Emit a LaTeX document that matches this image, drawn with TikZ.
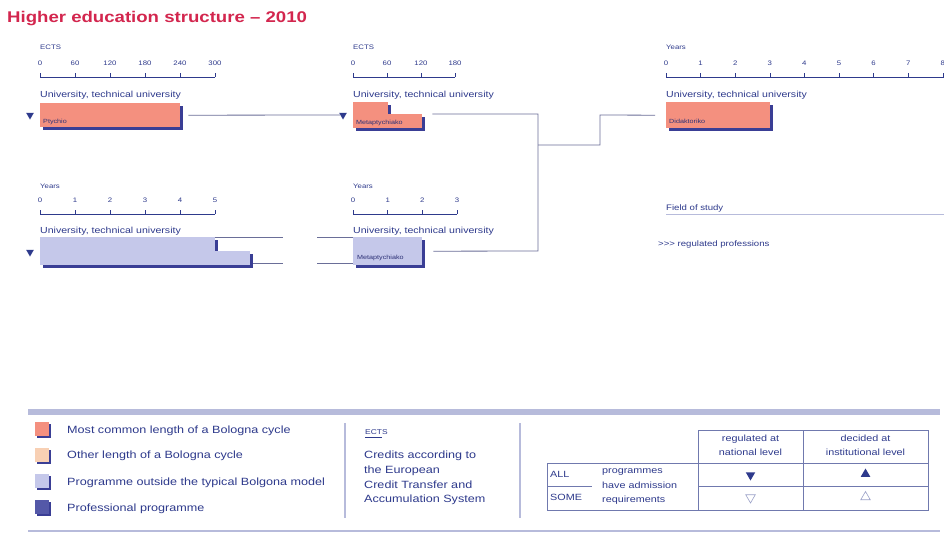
\documentclass[tikz,border=0pt]{standalone}
\usepackage{fontspec}
\setmainfont[FakeStretch=1.2]{Liberation Sans}
\usetikzlibrary{shapes.geometric,shadows}
\definecolor{titlered}{HTML}{D3264E}
\definecolor{dblue}{HTML}{2E3A8C}
\definecolor{salmon}{HTML}{F4907F}
\definecolor{peach}{HTML}{F8D0B4}
\definecolor{lav}{HTML}{C5C8EA}
\definecolor{prof}{HTML}{5458A8}
\definecolor{shadowc}{HTML}{3A3E95}
\definecolor{connc}{HTML}{6A6E98}
\definecolor{bandc}{HTML}{B7BBDB}
\definecolor{tablec}{HTML}{7079AE}
\definecolor{opentri}{HTML}{9AA0C8}
\newcommand{\myaxis}[6]{% #1 name, #2 x0, #3 step, #4 axis y, #5 end x, #6 labels
  \draw[axisline] (#2,#4) -- (#5,#4);
  \foreach \lab [count=\i from 0] in {#6} {
    \draw[axisline] (#2+\i*#3,#4) -- ++(0,-4);
    \node[num] (#1-\i) at (#2+\i*#3,#4-12) {\lab};
  }
}
\begin{document}
\begin{tikzpicture}[x=1pt,y=-1pt,
  txt/.style={inner sep=0pt, anchor=base west, text=dblue, font=\fontsize{#1}{#1}\selectfont},
  txt/.default=8,
  num/.style={inner sep=0pt, anchor=base, text=dblue, font=\fontsize{6.5}{6.5}\selectfont},
  axisline/.style={draw=dblue, line width=0.6pt},
  bar/.style={draw=none, inner sep=0pt, anchor=north west,
    general shadow={fill=shadowc, shadow xshift=2.5pt, shadow yshift=-2.5pt}},
  barlbl/.style={inner sep=0pt, anchor=base west, text=shadowc!80!black, font=\fontsize{6}{6}\selectfont},
  tridown/.style={regular polygon, regular polygon sides=3, shape border rotate=180,
    fill=dblue, inner sep=0pt, minimum size=9pt},
  triup/.style={regular polygon, regular polygon sides=3,
    fill=dblue, inner sep=0pt, minimum size=9pt},
  tabtri/.style={minimum size=11pt},
  conn/.style={draw=connc, line width=0.8pt},
  legsq/.style={draw=none, inner sep=0pt, minimum size=14pt,
    general shadow={fill=shadowc, shadow xshift=2pt, shadow yshift=-2pt}},
  tline/.style={draw=tablec, line width=0.7pt},
]
\useasboundingbox (0,0) rectangle (944,535);
\fill[white] (0,0) rectangle (944,535);

% title
\node[inner sep=0pt, anchor=base west, text=titlered, font=\fontsize{15.5}{15.5}\selectfont\bfseries] (title) at (7,23) {Higher education structure -- 2010};

% ---------- top row ----------
\node[txt=6.5] (h1) at (40,49) {ECTS};
\myaxis{a1}{40}{35}{77}{215}{0,60,120,180,240,300}
\node[txt=8.8] (u1) at (40,97) {University, technical university};
\node[bar, fill=salmon, minimum width=140pt, minimum height=24pt] (p1) at (40,103) {};
\node[barlbl] (p1l) at (43,123) {Ptychio};
\node[tridown] (t1) at (30,115) {};

\node[txt=6.5] (h2) at (353,49) {ECTS};
\myaxis{a2}{353}{34}{77}{455}{0,60,120,180}
\node[txt=8.8] (u2) at (353,97) {University, technical university};
\node[bar, fill=salmon, minimum width=35pt, minimum height=12pt] (m1a) at (353,102) {};
\node[bar, fill=salmon, minimum width=69pt, minimum height=14pt] (m1) at (353,114) {};
\node[barlbl] (m1l) at (356,124) {Metaptychiako};
\node[tridown] (t2) at (343,115) {};

\node[txt=6.5] (h3) at (666,49) {Years};
\myaxis{a3}{666}{34.6}{77}{944}{0,1,2,3,4,5,6,7,8}
\node[txt=8.8] (u3) at (666,97) {University, technical university};
\node[bar, fill=salmon, minimum width=104pt, minimum height=26pt] (d1) at (666,102) {};
\node[barlbl] (d1l) at (669,123) {Didaktoriko};

% ---------- bottom row ----------
\node[txt=6.5] (h4) at (40,188) {Years};
\myaxis{a4}{40}{35}{214}{215}{0,1,2,3,4,5}
\node[txt=8.8] (u4) at (40,233) {University, technical university};
\node[bar, fill=lav, minimum width=175pt, minimum height=14pt] (l1a) at (40,237) {};
\node[bar, fill=lav, minimum width=210pt, minimum height=14pt] (l1) at (40,251) {};
\node[tridown] (t3) at (30,252) {};

\node[txt=6.5] (h5) at (353,188) {Years};
\myaxis{a5}{353}{34.7}{214}{457}{0,1,2,3}
\node[txt=8.8] (u5) at (353,233) {University, technical university};
\node[bar, fill=lav, minimum width=69pt, minimum height=28pt] (m2) at (353,237) {};
\node[barlbl] (m2l) at (357,259) {Metaptychiako};

% ---------- connectors ----------
\coordinate (jb) at (538,251);
\coordinate (jc) at (538,145);
\coordinate (jd) at (600,115);
\draw[conn] ([xshift=8pt]p1.east) -- (t2.west);
\draw[conn] ([xshift=10pt]m1.north east) -| (jb) -- ([xshift=11pt]m2.east);
\draw[conn] (jc) -| (jd) -- ([xshift=-11pt]d1.west);
\coordinate (g1) at (283,237);
\coordinate (g2) at (317,237);
\coordinate (g3) at (253,263);
\coordinate (g4) at (283,263);
\coordinate (g5) at (317,263);
\coordinate (g6) at (353,263);
\draw[conn] (l1a.north east) -- (g1);
\draw[conn] (g2) -- (m2.north west);
\draw[conn] (g3) -- (g4);
\draw[conn] (g5) -- (g6);

% field of study
\node[txt=8] (fos) at (666,210) {Field of study};
\draw[draw=bandc, line width=1.6pt] (666,214.5) -- (944,214.5);
\node[txt=8] (reg) at (658,246) {>{}>{}> regulated professions};

% ---------- legend ----------
\fill[bandc] (28,409) rectangle (940,415);
\draw[draw=bandc, line width=1.2pt] (28,531) -- (940,531);
\node[legsq, fill=salmon] (s1) at (42,429) {};
\node[legsq, fill=peach] (s2) at (42,455) {};
\node[legsq, fill=lav] (s3) at (42,481) {};
\node[legsq, fill=prof] (s4) at (42,507) {};
\node[txt=10.5] (l1t) at (67,433.5) {Most common length of a Bologna cycle};
\node[txt=10.5] (l2t) at (67,458.5) {Other length of a Bologna cycle};
\node[txt=10.5] (l3t) at (67,485.5) {Programme outside the typical Bolgona model};
\node[txt=10.5] (l4t) at (67,511.5) {Professional programme};

\draw[draw=bandc, line width=1.2pt] (345,423) -- (345,518);
\draw[draw=bandc, line width=1.2pt] (520,423) -- (520,518);

\node[txt=7] (ects) at (365,434) {ECTS};
\draw[draw=dblue, line width=0.5pt] (ects.base west) ++(0,3) -- ++(17,0);
\node[txt=10.5] (e1) at (364,458.5) {Credits according to};
\node[txt=10.5] (e2) at (364,473.5) {the European};
\node[txt=10.5] (e3) at (364,488.5) {Credit Transfer and};
\node[txt=10.5] (e4) at (364,502.5) {Accumulation System};

% table
\draw[tline] (698,430) rectangle (928,463);
\draw[tline] (547,463) rectangle (928,510);
\draw[tline] (698,430) -- (698,510);
\draw[tline] (803,430) -- (803,510);
\draw[tline] (698,486) -- (928,486);
\draw[tline] (547,486) -- (592,486);
\node[txt=9, anchor=base] (c1a) at (750.5,441) {regulated at};
\node[txt=9, anchor=base] (c1b) at (750.5,455.5) {national level};
\node[txt=9, anchor=base] (c2a) at (865.5,441) {decided at};
\node[txt=9, anchor=base] (c2b) at (865.5,455.5) {institutional level};
\node[txt=9] (all) at (550,477) {ALL};
\node[txt=9] (some) at (550,500) {SOME};
\node[txt=9] (r1) at (602,473.5) {programmes};
\node[txt=9] (r2) at (602,488) {have admission};
\node[txt=9] (r3) at (602,502) {requirements};
\node[tridown, tabtri] (tt1) at (750.5,475) {};
\node[triup, tabtri] (tt2) at (865.5,474) {};
\node[tridown, tabtri, fill=none, draw=opentri, line width=0.6pt] (tt3) at (750.5,497.5) {};
\node[triup, tabtri, fill=none, draw=opentri, line width=0.6pt] (tt4) at (865.5,497) {};
\end{tikzpicture}
\end{document}
